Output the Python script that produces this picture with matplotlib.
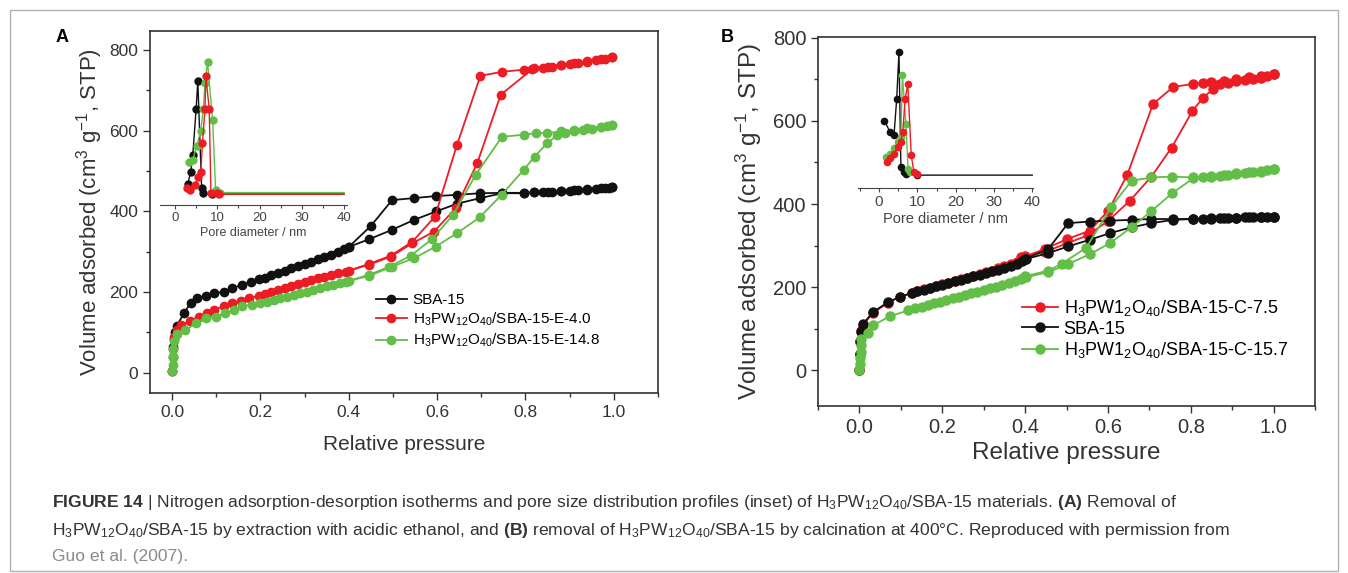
import matplotlib
matplotlib.use('Agg')
import matplotlib.pyplot as plt
from matplotlib.patches import Rectangle
from matplotlib.ticker import MultipleLocator

plt.rcParams['font.family'] = ['Liberation Sans', 'DejaVu Sans']
plt.rcParams['mathtext.fontset'] = 'custom'
plt.rcParams['mathtext.rm'] = 'Liberation Sans'
plt.rcParams['mathtext.it'] = 'Liberation Sans:italic'
plt.rcParams['mathtext.bf'] = 'Liberation Sans:bold'

RED = '#ec1c24'
GREEN = '#62be46'
BLACK = '#111111'

# ---------------- panel A : isotherms (extraction) ----------------
a_sba_ads_p = [0.0, 0.001, 0.002, 0.004, 0.006, 0.01, 0.027, 0.042, 0.057, 0.076, 0.095, 0.118, 0.136,
               0.159, 0.178, 0.197, 0.21, 0.225, 0.24, 0.255, 0.27, 0.285, 0.30, 0.315, 0.33, 0.345,
               0.36, 0.375, 0.39, 0.40, 0.446, 0.497, 0.548, 0.598, 0.645, 0.698, 0.747, 0.796, 0.82,
               0.84, 0.86, 0.88, 0.90, 0.92, 0.94, 0.96, 0.98, 0.99, 0.996]
a_sba_ads_v = [5, 40, 65, 85, 100, 115, 148, 173, 185, 191, 197, 201, 210, 218, 226, 232, 236, 242, 248,
               253, 259, 264, 270, 275, 281, 287, 293, 299, 306, 312, 331, 354, 379, 400, 419, 433, 445,
               445, 447, 448, 449, 450, 451, 452, 454, 455, 457, 459, 460]
a_sba_des_p = [0.996, 0.97, 0.94, 0.91, 0.88, 0.85, 0.82, 0.796, 0.747, 0.698, 0.645, 0.597, 0.548,
               0.498, 0.45, 0.40]
a_sba_des_v = [460, 457, 455, 452, 450, 448, 447, 446, 446, 445, 441, 438, 433, 428, 364, 312]

a_e40_ads_p = [0.0, 0.002, 0.005, 0.01, 0.02, 0.04, 0.061, 0.08, 0.095, 0.118, 0.136, 0.155, 0.174,
               0.197, 0.21, 0.225, 0.24, 0.255, 0.27, 0.285, 0.30, 0.315, 0.33, 0.345, 0.36, 0.375,
               0.393, 0.446, 0.495, 0.544, 0.593, 0.642, 0.691, 0.744, 0.815, 0.84, 0.86, 0.88, 0.90,
               0.92, 0.94, 0.96, 0.98, 0.996]
a_e40_ads_v = [5, 60, 90, 105, 118, 128, 139, 148, 156, 166, 173, 179, 185, 191, 195, 200, 205, 210,
               215, 220, 225, 229, 234, 238, 243, 247, 251, 268, 288, 321, 350, 408, 520, 689, 752,
               756, 759, 762, 765, 768, 771, 774, 778, 782]
a_e40_des_p = [0.996, 0.97, 0.94, 0.91, 0.88, 0.85, 0.82, 0.796, 0.747, 0.698, 0.645, 0.595, 0.544,
               0.495, 0.446, 0.40]
a_e40_des_v = [782, 777, 772, 767, 763, 759, 755, 751, 746, 736, 565, 387, 325, 290, 270, 253]

a_e148_ads_p = [0.0, 0.001, 0.002, 0.003, 0.005, 0.01, 0.029, 0.054, 0.076, 0.099, 0.12, 0.14, 0.159,
                0.182, 0.20, 0.215, 0.23, 0.245, 0.26, 0.275, 0.29, 0.305, 0.32, 0.335, 0.35, 0.365,
                0.38, 0.393, 0.446, 0.497, 0.548, 0.597, 0.645, 0.696, 0.746, 0.796, 0.821, 0.849,
                0.872, 0.89, 0.91, 0.93, 0.95, 0.97, 0.985, 0.996]
a_e148_ads_v = [5, 20, 40, 60, 80, 95, 105, 123, 137, 139, 148, 156, 166, 168, 172, 176, 181, 185, 189,
                193, 197, 201, 205, 209, 214, 218, 222, 226, 240, 263, 284, 313, 346, 385, 441, 503,
                536, 569, 589, 595, 599, 602, 605, 608, 611, 614]
a_e148_des_p = [0.996, 0.97, 0.94, 0.91, 0.88, 0.849, 0.823, 0.796, 0.747, 0.687, 0.636, 0.588, 0.54,
                0.49, 0.446, 0.40]
a_e148_des_v = [614, 610, 606, 602, 598, 594, 594, 590, 585, 490, 391, 331, 290, 262, 243, 228]

# panel A inset : pore size distribution (last point = flat tail to 40 nm, no marker)
a_psd_sba_d = [3.0, 3.7, 4.2, 5.0, 5.4, 6.3, 6.7, 8.7, 40]
a_psd_sba_y = [0.135, 0.21, 0.32, 0.62, 0.80, 0.11, 0.075, 0.07, 0.07]
a_psd_e40_d = [2.8, 3.5, 4.7, 5.5, 6.1, 6.5, 7.1, 7.3, 8.1, 8.5, 9.9, 10.3, 40]
a_psd_e40_y = [0.11, 0.10, 0.13, 0.18, 0.21, 0.40, 0.62, 0.83, 0.62, 0.075, 0.075, 0.07, 0.07]
a_psd_e148_d = [3.4, 4.2, 5.1, 6.1, 6.7, 7.1, 7.7, 8.9, 9.6, 10.6, 40]
a_psd_e148_y = [0.28, 0.29, 0.38, 0.48, 0.62, 0.79, 0.92, 0.55, 0.10, 0.08, 0.08]

# ---------------- panel B : isotherms (calcination) ----------------
b_sba_ads_p = [0.0, 0.001, 0.002, 0.004, 0.009, 0.033, 0.069, 0.097, 0.126, 0.14, 0.155, 0.17, 0.185,
               0.20, 0.215, 0.23, 0.245, 0.26, 0.275, 0.29, 0.305, 0.32, 0.335, 0.35, 0.365, 0.38,
               0.393, 0.403, 0.456, 0.504, 0.556, 0.605, 0.657, 0.705, 0.758, 0.806, 0.83, 0.85, 0.87,
               0.89, 0.91, 0.93, 0.95, 0.97, 0.985, 1.0]
b_sba_ads_v = [0, 40, 70, 95, 112, 140, 164, 176, 186, 190, 194, 198, 202, 206, 210, 214, 218, 222,
               226, 230, 234, 238, 242, 246, 251, 256, 262, 268, 282, 298, 314, 330, 344, 354, 362,
               364, 365, 366, 366, 367, 367, 368, 368, 369, 369, 370]
b_sba_des_p = [1.0, 0.97, 0.94, 0.91, 0.88, 0.85, 0.806, 0.758, 0.705, 0.657, 0.605, 0.556, 0.504,
               0.456, 0.40]
b_sba_des_v = [370, 369, 368, 367, 366, 365, 364, 364, 364, 362, 360, 358, 354, 292, 268]

b_c75_ads_p = [0.0, 0.001, 0.002, 0.004, 0.009, 0.033, 0.069, 0.097, 0.126, 0.14, 0.155, 0.17, 0.185,
               0.20, 0.215, 0.23, 0.245, 0.26, 0.275, 0.29, 0.305, 0.32, 0.335, 0.35, 0.365, 0.38,
               0.391, 0.448, 0.50, 0.552, 0.601, 0.653, 0.705, 0.754, 0.804, 0.83, 0.854, 0.87, 0.89,
               0.91, 0.93, 0.95, 0.97, 0.985, 1.0]
b_c75_ads_v = [0, 38, 68, 92, 110, 138, 163, 176, 186, 190, 195, 199, 203, 207, 211, 215, 219, 223,
               227, 232, 236, 240, 245, 250, 255, 261, 272, 285, 305, 325, 360, 408, 466, 536, 624,
               656, 677, 688, 692, 695, 698, 701, 704, 708, 713]
b_c75_des_p = [1.0, 0.97, 0.94, 0.91, 0.88, 0.85, 0.83, 0.806, 0.758, 0.709, 0.647, 0.601, 0.556,
               0.50, 0.448, 0.40]
b_c75_des_v = [713, 709, 705, 701, 697, 694, 692, 689, 682, 641, 471, 384, 336, 315, 292, 274]

b_c157_ads_p = [0.0, 0.001, 0.002, 0.003, 0.004, 0.005, 0.021, 0.033, 0.073, 0.118, 0.135, 0.15,
                0.165, 0.18, 0.195, 0.21, 0.225, 0.24, 0.255, 0.27, 0.285, 0.30, 0.315, 0.33, 0.345,
                0.36, 0.375, 0.39, 0.403, 0.456, 0.504, 0.556, 0.605, 0.657, 0.705, 0.755, 0.806,
                0.83, 0.85, 0.87, 0.89, 0.91, 0.93, 0.95, 0.97, 0.985, 1.0]
b_c157_ads_v = [0, 15, 30, 45, 60, 75, 90, 108, 130, 144, 149, 153, 157, 161, 165, 169, 173, 177, 181,
                185, 189, 193, 197, 201, 205, 209, 214, 219, 224, 236, 256, 279, 306, 344, 383, 426,
                462, 464, 466, 468, 470, 472, 474, 476, 478, 481, 484]
b_c157_des_p = [1.0, 0.97, 0.94, 0.91, 0.88, 0.85, 0.806, 0.755, 0.705, 0.657, 0.607, 0.548, 0.488,
                0.456, 0.40]
b_c157_des_v = [484, 480, 477, 474, 471, 468, 464, 466, 464, 456, 392, 295, 256, 240, 226]

# panel B inset
b_psd_sba_d = [1.4, 2.9, 3.9, 4.6, 5.2, 5.7, 6.4, 7.0, 9.8, 40]
b_psd_sba_y = [0.47, 0.39, 0.37, 0.62, 0.95, 0.15, 0.11, 0.10, 0.09, 0.09]
b_psd_c75_d = [2.0, 2.9, 3.9, 5.0, 5.7, 6.2, 6.8, 7.5, 8.4, 9.1, 9.8]
b_psd_c75_y = [0.18, 0.21, 0.24, 0.29, 0.32, 0.39, 0.62, 0.73, 0.23, 0.11, 0.10]
b_psd_c157_d = [1.8, 2.9, 3.9, 5.0, 5.7, 6.1, 7.0, 7.6, 8.2]
b_psd_c157_y = [0.22, 0.24, 0.28, 0.32, 0.36, 0.79, 0.45, 0.13, 0.11]

a_labels = ['SBA-15',
            r'H$\mathregular{_3}$PW$\mathregular{_{12}}$O$\mathregular{_{40}}$/SBA-15-E-4.0',
            r'H$\mathregular{_3}$PW$\mathregular{_{12}}$O$\mathregular{_{40}}$/SBA-15-E-14.8']
b_labels = [r'H$\mathregular{_3}$PW1$\mathregular{_2}$O$\mathregular{_{40}}$/SBA-15-C-7.5',
            'SBA-15',
            r'H$\mathregular{_3}$PW1$\mathregular{_2}$O$\mathregular{_{40}}$/SBA-15-C-15.7']
ylab = r'Volume adsorbed (cm$\mathregular{^3}$ g$\mathregular{^{-1}}$, STP)'

W, H = 1348, 573
fig = plt.figure(figsize=(W / 100, H / 100), dpi=100)


def box(l, t, r, b):
    return [l / W, 1 - b / H, (r - l) / W, (b - t) / H]


def style_main(ax, fs):
    for s in ax.spines.values():
        s.set_linewidth(1.2)
        s.set_color('#333333')
    ax.xaxis.set_major_locator(MultipleLocator(0.2))
    ax.xaxis.set_minor_locator(MultipleLocator(0.1))
    ax.yaxis.set_major_locator(MultipleLocator(200))
    ax.yaxis.set_minor_locator(MultipleLocator(100))
    ax.tick_params(which='major', direction='out', length=5, width=1, labelsize=fs, colors='#333333')
    ax.tick_params(which='minor', direction='out', length=3, width=1, colors='#333333')
    ax.xaxis.set_major_formatter(plt.FuncFormatter(lambda v, p: f'{v:.1f}'))


def style_inset(ax, fs, lfs):
    ax.patch.set_alpha(0)
    for k in ['left', 'right', 'top']:
        ax.spines[k].set_visible(False)
    ax.spines['bottom'].set_color('#444444')
    ax.set_yticks([])
    ax.xaxis.set_major_locator(MultipleLocator(10))
    ax.xaxis.set_minor_locator(MultipleLocator(5))
    ax.tick_params(which='major', direction='out', length=3, width=0.8, labelsize=fs,
                   colors='#444444', pad=2)
    ax.tick_params(which='minor', direction='out', length=2, width=0.8, colors='#444444')
    ax.set_xlabel('Pore diameter / nm', fontsize=lfs, color='#444444', labelpad=2)


def iso(ax, ads_p, ads_v, des_p, des_v, color, label, ms):
    ax.plot(ads_p, ads_v, '-o', color=color, ms=ms, lw=1.3, label=label)
    ax.plot(des_p, des_v, '-o', color=color, ms=ms, lw=1.3)


# ---- panel A ----
axA = fig.add_axes(box(150, 31, 658, 393))
iso(axA, a_sba_ads_p, a_sba_ads_v, a_sba_des_p, a_sba_des_v, BLACK, a_labels[0], 6)
iso(axA, a_e40_ads_p, a_e40_ads_v, a_e40_des_p, a_e40_des_v, RED, a_labels[1], 6)
iso(axA, a_e148_ads_p, a_e148_ads_v, a_e148_des_p, a_e148_des_v, GREEN, a_labels[2], 6)
axA.set_xlim(-0.05, 1.1)
axA.set_ylim(-50, 847)
style_main(axA, 12.5)
axA.set_xlabel('Relative pressure', fontsize=15, color='#333333', labelpad=11)
axA.set_ylabel(ylab, fontsize=16, color='#333333', labelpad=3)
axA.legend(loc='upper left', bbox_to_anchor=(376 / W, 1 - 293 / H), bbox_transform=fig.transFigure,
           frameon=False, fontsize=11, handlelength=2.0, handletextpad=0.4, labelspacing=0.25,
           borderpad=0, borderaxespad=0)

inA = fig.add_axes(box(160, 50, 347, 205))
inA.plot(a_psd_sba_d, a_psd_sba_y, '-o', color=BLACK, ms=5, lw=1, markevery=list(range(len(a_psd_sba_d) - 1)))
inA.plot(a_psd_e148_d, a_psd_e148_y, '-o', color=GREEN, ms=5, lw=1, markevery=list(range(len(a_psd_e148_d) - 1)))
inA.plot(a_psd_e40_d, a_psd_e40_y, '-o', color=RED, ms=5, lw=1, markevery=list(range(len(a_psd_e40_d) - 1)))
inA.set_xlim(-3.55, 40.7)
inA.set_ylim(0, 1)
style_inset(inA, 9.5, 9)

# ---- panel B ----
axB = fig.add_axes(box(818, 37, 1315, 406))
iso(axB, b_c75_ads_p, b_c75_ads_v, b_c75_des_p, b_c75_des_v, RED, b_labels[0], 6.5)
iso(axB, b_sba_ads_p, b_sba_ads_v, b_sba_des_p, b_sba_des_v, BLACK, b_labels[1], 6.5)
iso(axB, b_c157_ads_p, b_c157_ads_v, b_c157_des_p, b_c157_des_v, GREEN, b_labels[2], 6.5)
axB.set_xlim(-0.1, 1.1)
axB.set_ylim(-86, 802)
style_main(axB, 14.5)
axB.set_xlabel('Relative pressure', fontsize=17.5, color='#333333', labelpad=4)
axB.set_ylabel(ylab, fontsize=17.5, color='#333333', labelpad=6)
axB.legend(loc='upper left', bbox_to_anchor=(1022 / W, 1 - 298 / H), bbox_transform=fig.transFigure,
           frameon=False, fontsize=13, handlelength=2.0, handletextpad=0.3, labelspacing=0.15,
           borderpad=0, borderaxespad=0)

inB = fig.add_axes(box(858, 45, 1033, 188))
inB.plot(b_psd_sba_d, b_psd_sba_y, '-o', color=BLACK, ms=4.5, lw=1, markevery=list(range(len(b_psd_sba_d) - 1)))
inB.plot(b_psd_c157_d, b_psd_c157_y, '-o', color=GREEN, ms=4.5, lw=1)
inB.plot(b_psd_c75_d, b_psd_c75_y, '-o', color=RED, ms=4.5, lw=1)
inB.set_xlim(-5.5, 40.2)
inB.set_ylim(0, 1)
style_inset(inB, 11, 10.5)

# panel letters
fig.text(62 / W, 1 - 38 / H, 'A', fontsize=13, fontweight='bold', ha='center', va='center')
fig.text(727 / W, 1 - 38 / H, 'B', fontsize=13, fontweight='bold', ha='center', va='center')

# outer frame
fig.add_artist(Rectangle((10 / W, 2 / H), 1328 / W, 561 / H, transform=fig.transFigure,
                         fill=False, edgecolor='#b0b0b0', lw=1))

# caption
sub = lambda s: r'$\mathregular{_{' + s + '}}$'
hpw = 'H' + sub('3') + 'PW' + sub('12') + 'O' + sub('40')
cap1 = (r'$\mathbf{FIGURE\ 14}$ | Nitrogen adsorption-desorption isotherms and pore size distribution '
        'profiles (inset) of ' + hpw + r'/SBA-15 materials. $\mathbf{(A)}$ Removal of')
cap2 = (hpw + r'/SBA-15 by extraction with acidic ethanol, and $\mathbf{(B)}$ removal of ' + hpw +
        '/SBA-15 by calcination at 400°C. Reproduced with permission from')
fig.text(52 / W, 1 - 503 / H, cap1, fontsize=12.6, color='#333333', va='center')
fig.text(52 / W, 1 - 530 / H, cap2, fontsize=12.6, color='#333333', va='center')
fig.text(52 / W, 1 - 556 / H, 'Guo et al. (2007).', fontsize=12.6, color='#8a8a8a', va='center')

fig.savefig('out.png', dpi=100)
